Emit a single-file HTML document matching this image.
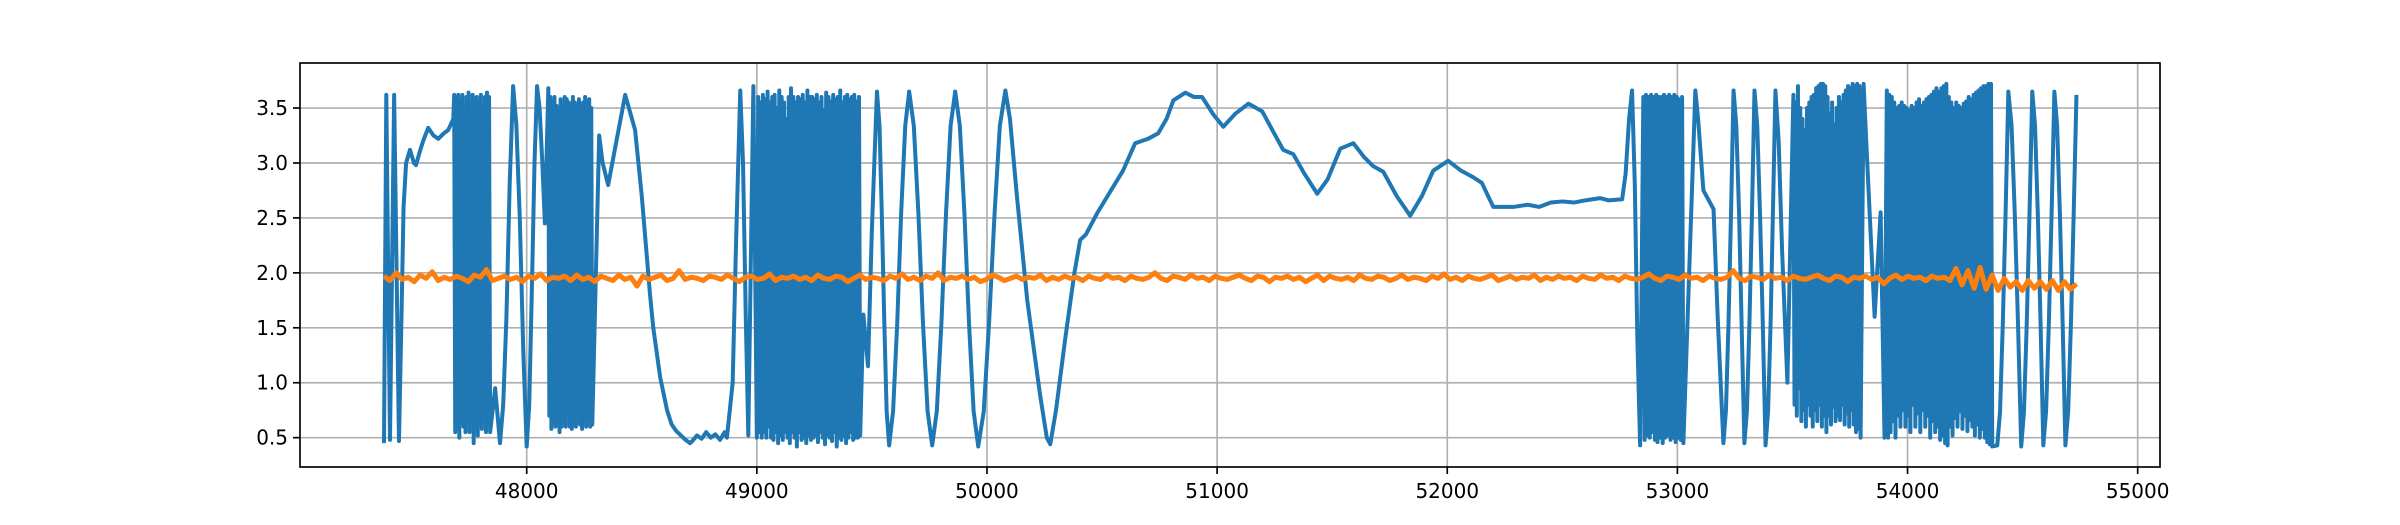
<!DOCTYPE html>
<html>
<head>
<meta charset="utf-8">
<style>
  html, body { margin: 0; padding: 0; background: #fff; }
  svg { display: block; }
  text { font-family: "DejaVu Sans", "Liberation Sans", sans-serif; font-size: 20px; fill: #000; }
</style>
</head>
<body>
<svg id="chart" width="2400" height="525" viewBox="0 0 2400 525">
  <rect x="0" y="0" width="2400" height="525" fill="#fff"/>
  <g id="grid"></g>
  <g id="series"></g>
  <g id="axes"></g>
</svg>
<script>
// ---------- data ----------
const xTicks = [48000, 49000, 50000, 51000, 52000, 53000, 54000, 55000];
const xTickLabels = ["48000", "49000", "50000", "51000", "52000", "53000", "54000", "55000"];
const yTicks = [0.5, 1.0, 1.5, 2.0, 2.5, 3.0, 3.5];
const yTickLabels = ["0.5", "1.0", "1.5", "2.0", "2.5", "3.0", "3.5"];

// slow blue path: [x, y]
const blueSlow = [
  [47380,0.45],[47390,3.62],[47406,0.48],[47424,3.62],[47445,0.47],[47455,1.5],[47465,2.6],[47476,3.0],[47493,3.12],
  [47510,3.0],[47519,2.98],[47535,3.1],[47550,3.2],[47572,3.32],[47595,3.25],[47616,3.22],[47640,3.27],[47659,3.3],[47681,3.4],
  [47863,0.95],[47884,0.45],[47898,0.8],[47912,1.6],[47926,2.8],[47941,3.7],[47955,3.35],[47970,2.5],[47985,1.3],[48000,0.42],
  [48011,0.8],[48022,1.8],[48034,3.0],[48045,3.7],[48056,3.5],[48068,3.0],[48079,2.45],
  [48315,3.25],[48330,3.0],[48354,2.8],[48390,3.2],[48428,3.62],[48471,3.3],[48500,2.7],[48536,1.8],[48550,1.5],[48580,1.05],[48610,0.75],
  [48630,0.62],[48650,0.56],[48670,0.52],[48690,0.48],[48710,0.45],[48720,0.47],[48740,0.52],[48760,0.49],[48780,0.55],[48800,0.5],
  [48820,0.53],[48840,0.48],[48860,0.55],[48870,0.5],[48895,1.0],[48910,2.3],[48928,3.66],[48940,3.0],[48952,1.6],[48963,0.52],[48985,3.7],[49000,0.5],
  [49463,1.62],[49483,1.15],[49500,2.4],[49522,3.65],[49533,3.34],[49543,2.54],[49554,1.54],[49564,0.74],[49575,0.43],
  [49592,0.74],[49610,1.54],[49627,2.54],[49645,3.34],[49662,3.65],[49682,3.34],[49702,2.54],[49722,1.54],[49742,0.74],[49762,0.43],
  [49782,0.74],[49802,1.54],[49822,2.54],[49842,3.34],[49862,3.65],[49882,3.34],[49902,2.54],[49922,1.54],[49942,0.74],[49962,0.42],
  [49986,0.74],[50009,1.54],[50033,2.54],[50056,3.34],[50080,3.66],[50100,3.4],[50130,2.7],[50175,1.75],[50230,0.9],[50260,0.5],[50275,0.44],
  [50300,0.75],[50340,1.4],[50380,2.0],[50405,2.3],[50430,2.35],[50478,2.54],[50530,2.72],[50591,2.93],[50644,3.18],[50700,3.22],
  [50744,3.27],[50780,3.4],[50810,3.57],[50862,3.64],[50900,3.6],[50935,3.6],[50984,3.44],[51027,3.33],[51080,3.45],[51136,3.54],[51196,3.47],
  [51240,3.3],[51287,3.12],[51331,3.08],[51380,2.9],[51435,2.72],[51480,2.85],[51535,3.13],[51592,3.18],[51640,3.05],[51679,2.97],[51722,2.92],[51780,2.7],[51839,2.52],
  [51890,2.7],[51939,2.93],[52004,3.02],[52060,2.93],[52113,2.87],[52150,2.82],[52200,2.6],[52287,2.6],[52350,2.62],[52400,2.6],[52450,2.64],
  [52500,2.65],[52550,2.64],[52600,2.66],[52665,2.68],[52700,2.66],[52760,2.67],[52775,2.9],[52790,3.4],
  [52803,3.66],[52815,2.8],[52826,1.4],[52838,0.43],
  [53078,3.66],[53090,3.4],[53113,2.75],[53157,2.58],[53175,1.6],[53200,0.45],[53211,0.75],[53222,1.54],[53233,2.54],[53244,3.66],
  [53256,3.34],[53268,2.54],[53279,1.54],[53291,0.45],[53302,0.74],[53313,1.54],[53324,2.54],[53335,3.66],[53347,3.34],[53359,2.54],[53371,1.54],[53383,0.43],
  [53394,0.74],[53405,1.54],[53415,2.54],[53426,3.66],[53440,3.2],[53455,2.2],[53478,1.0],[53809,3.72],[53825,3.0],[53857,1.6],[53883,2.55],[53900,0.5],
  [54390,0.43],[54402,0.74],[54414,1.54],[54426,2.54],[54438,3.65],[54452,3.34],[54466,2.54],[54480,1.54],[54494,0.42],
  [54506,0.74],[54518,1.54],[54530,2.54],[54542,3.65],[54554,3.34],[54566,2.54],[54578,1.54],[54590,0.43],
  [54602,0.74],[54614,1.54],[54626,2.54],[54638,3.65],[54650,3.34],[54662,2.54],[54674,1.54],[54686,0.43],
  [54698,0.74],[54710,1.54],[54722,2.54],[54734,3.62]
];

// dense bursts: x range + typed values
const burstARange = [47685, 47841];
const burstAValues = [3.62,0.55,3.6,0.6,3.62,0.5,3.55,0.7,3.62,0.6,3.45,0.55,3.6,0.72,3.64,0.55,3.5,0.7,3.62,0.45,
  3.58,0.6,3.6,0.52,3.55,0.68,3.62,0.58,3.5,0.7,3.6,0.55,3.64,0.62,3.6,0.55];
const burstCRange = [48094, 48285];
const burstCValues = [3.68,0.7,3.6,0.58,3.55,0.65,3.6,0.6,3.52,0.7,3.5,0.55,3.58,0.6,3.3,0.65,3.6,0.6,3.58,0.7,3.55,0.6,3.5,0.58,
  3.6,0.65,3.55,0.6,3.52,0.7,3.58,0.62,3.5,0.58,3.55,0.66,3.6,0.6,3.55,0.7,3.58,0.6,3.5,0.62];
const burstBRange = [49006, 49449];
const burstBValues = [3.6,0.55,3.55,0.5,3.62,0.55,3.58,0.5,3.65,0.6,3.55,0.5,3.6,0.48,3.62,0.55,3.5,0.45,3.66,0.52,3.6,0.48,3.55,0.55,3.4,0.5,3.6,0.45,3.68,0.55,3.6,0.5,3.55,0.42,3.6,0.55,3.58,0.48,3.62,0.5,3.55,0.45,3.66,0.52,3.6,0.48,3.6,0.5,
  3.58,0.52,3.62,0.46,3.55,0.55,3.6,0.5,3.48,0.44,3.64,0.52,3.6,0.5,3.56,0.47,3.62,0.55,3.58,0.42,3.6,0.5,3.66,0.48,3.55,0.52,3.6,0.45,3.62,0.5,3.58,0.55,3.6,0.48,3.62,0.5,3.56,0.5,3.6,0.52];
const burstDRange = [52852, 53026];
const burstDValues = [3.6,0.48,3.62,0.52,3.6,0.5,3.62,0.55,3.6,0.48,3.62,0.46,3.6,0.5,3.6,0.45,
  3.62,0.5,3.6,0.52,3.62,0.48,3.6,0.5,3.62,0.46,3.6,0.5,3.58,0.48,3.6,0.45];
const burstERange = [53504, 53796];
const burstEValues = [3.62,0.8,3.55,0.7,3.7,0.95,3.5,0.65,3.4,0.75,3.3,0.6,3.5,0.8,3.55,0.7,3.6,0.6,3.62,0.75,3.68,0.65,3.7,0.8,3.72,0.6,3.72,0.7,3.7,0.55,
  3.6,0.7,3.45,0.62,3.55,0.78,3.35,0.65,3.5,0.7,3.6,0.66,3.55,0.8,3.62,0.62,3.66,0.72,3.7,0.6,3.68,0.75,3.72,0.62,3.7,0.55,3.72,0.58,3.7,0.5];
const burstFRange = [53910, 54368];
const burstFValues = [3.66,0.5,3.62,0.55,3.6,0.65,3.55,0.5,3.5,0.7,3.52,0.6,3.55,0.75,3.52,0.6,3.5,0.7,3.48,0.55,3.52,0.8,3.5,0.6,3.55,0.72,3.58,0.55,3.52,0.75,3.55,0.6,3.58,0.7,3.6,0.5,3.62,0.65,3.65,0.55,3.68,0.6,3.65,0.48,3.68,0.52,3.7,0.45,3.72,0.43,
  3.6,0.6,3.55,0.52,3.5,0.68,3.55,0.6,3.52,0.74,3.5,0.58,3.54,0.7,3.56,0.56,3.6,0.66,3.58,0.6,3.62,0.52,3.64,0.62,3.66,0.5,3.68,0.58,3.7,0.5,3.7,0.46,3.72,0.44,3.72,0.42];

// orange series, evenly spaced between these x bounds
const orangeRange = [47380, 54734];
const orangeValues = [
  1.97,1.93,2.0,1.94,1.96,1.92,1.98,1.95,2.01,1.93,1.96,1.94,1.97,1.95,1.92,1.98,1.96,2.03,1.93,1.95,
  1.97,1.94,1.96,1.92,1.97,1.95,1.99,1.93,1.96,1.95,1.97,1.93,1.98,1.94,1.96,1.92,1.97,1.95,1.93,1.98,
  1.94,1.96,1.88,1.97,1.94,1.96,1.98,1.93,1.95,2.02,1.94,1.96,1.95,1.93,1.97,1.96,1.94,1.98,1.95,1.92,
  1.96,1.97,1.94,1.95,1.99,1.93,1.96,1.95,1.97,1.94,1.96,1.93,1.98,1.95,1.94,1.97,1.96,1.92,1.95,1.98,
  1.94,1.96,1.95,1.93,1.97,1.95,1.99,1.94,1.96,1.93,1.97,1.95,2.0,1.93,1.96,1.95,1.97,1.94,1.96,1.92,
  1.94,1.98,1.96,1.93,1.95,1.97,1.94,1.96,1.95,1.98,1.93,1.96,1.94,1.97,1.95,1.96,1.93,1.97,1.95,1.94,
  1.98,1.95,1.96,1.93,1.97,1.95,1.94,1.96,2.0,1.95,1.93,1.97,1.96,1.94,1.98,1.95,1.96,1.93,1.97,1.95,
  1.94,1.96,1.98,1.95,1.93,1.97,1.96,1.92,1.96,1.95,1.97,1.94,1.96,1.92,1.95,1.98,1.93,1.97,1.95,1.94,
  1.96,1.93,1.98,1.95,1.94,1.97,1.96,1.93,1.95,1.98,1.94,1.96,1.95,1.93,1.97,1.95,1.99,1.94,1.96,1.93,
  1.97,1.95,1.94,1.96,1.98,1.93,1.95,1.97,1.94,1.96,1.95,1.98,1.93,1.96,1.94,1.97,1.95,1.96,1.93,1.97,
  1.95,1.94,1.98,1.95,1.96,1.93,1.97,1.95,1.94,1.96,1.99,1.95,1.93,1.97,1.96,1.94,1.98,1.95,1.96,1.93,
  1.97,1.95,1.94,1.96,2.02,1.95,1.93,1.97,1.96,1.94,1.98,1.95,1.96,1.93,1.97,1.95,1.94,1.96,1.98,1.95,
  1.93,1.97,1.96,1.92,1.96,1.95,1.97,1.94,1.96,1.9,1.95,1.98,1.94,1.97,1.95,1.96,1.93,1.97,1.95,1.96,
  1.93,2.04,1.89,2.02,1.86,2.05,1.85,1.98,1.84,1.95,1.87,1.92,1.84,1.93,1.86,1.92,1.85,1.93,1.84,1.92,1.85,1.9
];

// ---------- scales ----------
const L = 300, R = 2160, T = 63, B = 467;
const xMin = 47015, xMax = 55097, yMin = 0.233, yMax = 3.91;
const xs = v => L + (v - xMin) / (xMax - xMin) * (R - L);
const ys = v => B - (v - yMin) / (yMax - yMin) * (B - T);
const NS = "http://www.w3.org/2000/svg";

function mk(tag, attrs, parent) {
  const el = document.createElementNS(NS, tag);
  for (const k in attrs) el.setAttribute(k, attrs[k]);
  parent.appendChild(el);
  return el;
}

const grid = document.getElementById('grid');
const axes = document.getElementById('axes');
const series = document.getElementById('series');

xTicks.forEach((t, i) => {
  const x = xs(t);
  const g = mk('line', {x1:x, x2:x, y1:T, y2:B, stroke:'#b0b0b0', 'stroke-width':1.67}, grid);
  
  
  const tk = mk('line', {x1:x, x2:x, y1:B, y2:B+7, stroke:'#000', 'stroke-width':1.67}, axes);
  
  
  const tx = mk('text', {x:x, y:B+31, 'text-anchor':'middle'}, axes);
  tx.textContent = xTickLabels[i];
  
  
});
yTicks.forEach((t, i) => {
  const y = ys(t);
  const g = mk('line', {x1:L, x2:R, y1:y, y2:y, stroke:'#b0b0b0', 'stroke-width':1.67}, grid);
  
  
  const tk = mk('line', {x1:L-7, x2:L, y1:y, y2:y, stroke:'#000', 'stroke-width':1.67}, axes);
  
  
  const tx = mk('text', {x:L-12, y:y+7, 'text-anchor':'end'}, axes);
  tx.textContent = yTickLabels[i];
  
  
});
const frame = mk('rect', {x:L, y:T, width:R-L, height:B-T, fill:'none', stroke:'#000', 'stroke-width':1.67}, axes);



function burst(range, vals) {
  const n = vals.length;
  return vals.map((v, i) => [range[0] + (range[1] - range[0]) * (n > 1 ? i / (n - 1) : 0), v]);
}
const bluePts = blueSlow
  .concat(burst(burstARange, burstAValues))
  .concat(burst(burstCRange, burstCValues))
  .concat(burst(burstBRange, burstBValues))
  .concat(burst(burstDRange, burstDValues))
  .concat(burst(burstERange, burstEValues))
  .concat(burst(burstFRange, burstFValues))
  .sort((a, b) => a[0] - b[0]);

const clip = mk('clipPath', {id:'plotclip'}, document.getElementById('chart'));
mk('rect', {x:L, y:T, width:R-L, height:B-T}, clip);

const blue = mk('path', {
  d: bluePts.map((p, i) => (i ? 'L' : 'M') + xs(p[0]).toFixed(2) + ' ' + ys(p[1]).toFixed(2)).join(''),
  fill:'none', stroke:'#1f77b4', 'stroke-width':4, 'stroke-linejoin':'round', 'clip-path':'url(#plotclip)'
}, series);



const on = orangeValues.length;
const orange = mk('path', {
  d: orangeValues.map((v, i) => {
    const xv = orangeRange[0] + (orangeRange[1] - orangeRange[0]) * i / (on - 1);
    return (i ? 'L' : 'M') + xs(xv).toFixed(2) + ' ' + ys(v).toFixed(2);
  }).join(''),
  fill:'none', stroke:'#ff7f0e', 'stroke-width':5, 'stroke-linejoin':'round', 'clip-path':'url(#plotclip)'
}, series);


</script>
</body>
</html>
